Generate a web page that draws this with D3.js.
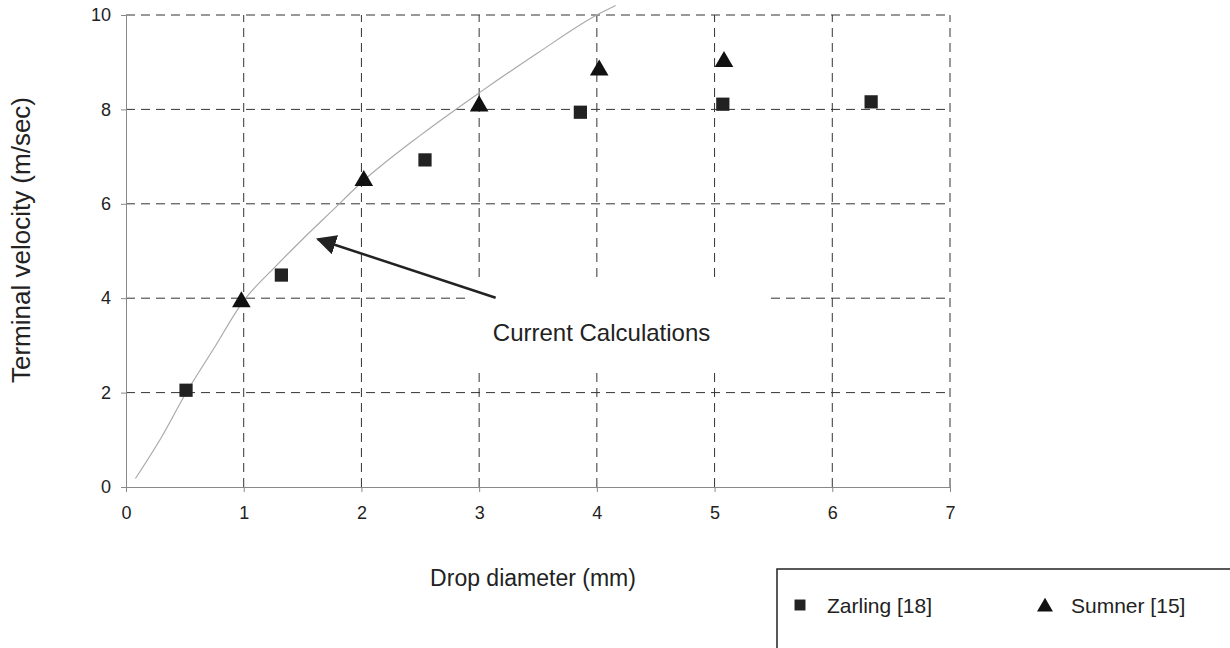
<!DOCTYPE html>
<meta charset="utf-8">
<title>Terminal velocity vs drop diameter</title>
<style>
body { margin: 0; background: #fff; }
text { font-family: "Liberation Sans", Arial, sans-serif; fill: #222; }
.grid line { stroke: #333; stroke-width: 1; stroke-dasharray: 9,6; }
.axis path, .axis line { stroke: #888; stroke-width: 1; }
.axis text { font-size: 18px; fill: #222; }
.curve { fill: none; stroke: #aaa; stroke-width: 1.2; }
</style>
<body>
<div id="chart"></div>
<script src="https://cdn.jsdelivr.net/npm/d3@7"></script>
<script>
var width = 1230, height = 648;

// data
var zarlingD = [0.51, 1.32, 2.54, 3.86, 5.07, 6.33];
var zarlingV = [2.05, 4.49, 6.93, 7.94, 8.11, 8.16];
var sumnerD = [0.98, 2.02, 3.0, 4.02, 5.08];
var sumnerV = [3.92, 6.49, 8.07, 8.83, 9.01];
var calcD = [0.08, 0.3, 0.5, 0.75, 1.0, 1.25, 1.5, 1.75, 2.0, 2.5, 3.0, 3.5, 4.0, 4.16];
var calcV = [0.18, 1.05, 1.95, 2.95, 3.95, 4.62, 5.25, 5.85, 6.45, 7.45, 8.35, 9.2, 10.0, 10.2];
var xTicks = [0, 1, 2, 3, 4, 5, 6, 7];
var yTicks = [0, 2, 4, 6, 8, 10];

var x = d3.scaleLinear().domain([0, 7]).range([126, 950]);
var y = d3.scaleLinear().domain([0, 10]).range([487, 15]);

var svg = d3.select("#chart").append("svg")
    .attr("width", width)
    .attr("height", height);

svg.append("rect").attr("width", width).attr("height", height).attr("fill", "#fff");

// dashed grid
var grid = svg.append("g").attr("class", "grid");
grid.selectAll(".gy").data(yTicks.filter(function(d) { return d > 0; }))
  .enter().append("line")
    .attr("x1", x(0)).attr("x2", x(7))
    .attr("y1", function(d) { return y(d); })
    .attr("y2", function(d) { return y(d); });
grid.selectAll(".gx").data(xTicks.filter(function(d) { return d > 0; }))
  .enter().append("line")
    .attr("y1", y(0)).attr("y2", y(10))
    .attr("x1", function(d) { return x(d); })
    .attr("x2", function(d) { return x(d); });

// axes
svg.append("g").attr("class", "axis")
    .attr("transform", "translate(0," + y(0) + ")")
    .call(d3.axisBottom(x).tickValues(xTicks).tickFormat(d3.format("d"))
      .tickSize(5).tickPadding(14).tickSizeOuter(0));
svg.append("g").attr("class", "axis")
    .attr("transform", "translate(" + x(0) + ",0)")
    .call(d3.axisLeft(y).tickValues(yTicks).tickFormat(d3.format("d"))
      .tickSize(5).tickPadding(10).tickSizeOuter(0));

// annotation box covering the grid
svg.append("rect")
    .attr("x", x(2.93)).attr("y", y(4.34))
    .attr("width", x(5.45) - x(2.93)).attr("height", y(2.48) - y(4.34))
    .attr("fill", "#fff");
svg.append("text")
    .attr("x", x(4.04)).attr("y", y(3.1))
    .attr("text-anchor", "middle")
    .style("font-size", "24px")
    .text("Current Calculations");

// calculated curve
var calc = calcD.map(function(d, i) { return [d, calcV[i]]; });
svg.append("path")
    .datum(calc)
    .attr("class", "curve")
    .attr("d", d3.line()
      .x(function(d) { return x(d[0]); })
      .y(function(d) { return y(d[1]); })
      .curve(d3.curveMonotoneX));

// arrow
svg.append("defs").append("marker")
    .attr("id", "arrow")
    .attr("viewBox", "0 0 10 10")
    .attr("refX", 9).attr("refY", 5)
    .attr("markerWidth", 8).attr("markerHeight", 8)
    .attr("markerUnits", "strokeWidth")
    .attr("orient", "auto")
  .append("path")
    .attr("d", "M0,0 L10,5 L0,10 z")
    .attr("fill", "#222");
svg.append("line")
    .attr("x1", x(3.14)).attr("y1", y(4.01))
    .attr("x2", x(1.63)).attr("y2", y(5.25))
    .attr("stroke", "#222").attr("stroke-width", 2.5)
    .attr("marker-end", "url(#arrow)");

// markers
var zarling = zarlingD.map(function(d, i) { return [d, zarlingV[i]]; });
var sumner = sumnerD.map(function(d, i) { return [d, sumnerV[i]]; });

svg.selectAll(".sq").data(zarling).enter().append("path")
    .attr("transform", function(d) { return "translate(" + x(d[0]) + "," + y(d[1]) + ")"; })
    .attr("d", d3.symbol().type(d3.symbolSquare).size(175))
    .attr("fill", "#222");
svg.selectAll(".tri").data(sumner).enter().append("path")
    .attr("transform", function(d) { return "translate(" + x(d[0]) + "," + y(d[1]) + ")"; })
    .attr("d", d3.symbol().type(d3.symbolTriangle).size(150))
    .attr("fill", "#111");

// axis titles
svg.append("text")
    .attr("x", 533).attr("y", 586)
    .attr("text-anchor", "middle")
    .style("font-size", "23px")
    .text("Drop diameter (mm)");
svg.append("text")
    .attr("transform", "translate(30,240)rotate(-90)")
    .attr("text-anchor", "middle")
    .style("font-size", "26px")
    .text("Terminal velocity (m/sec)");

// legend
var lg = svg.append("g");
lg.append("rect")
    .attr("x", 777).attr("y", 569)
    .attr("width", 470).attr("height", 100)
    .attr("fill", "#fff").attr("stroke", "#222").attr("stroke-width", 1.5);
lg.append("path")
    .attr("transform", "translate(800,605)")
    .attr("d", d3.symbol().type(d3.symbolSquare).size(120))
    .attr("fill", "#222");
lg.append("text").attr("x", 827).attr("y", 613).style("font-size", "21px").text("Zarling [18]");
lg.append("path")
    .attr("transform", "translate(1045,607)")
    .attr("d", d3.symbol().type(d3.symbolTriangle).size(110))
    .attr("fill", "#111");
lg.append("text").attr("x", 1071).attr("y", 613).style("font-size", "21px").text("Sumner [15]");
</script>
</body>
